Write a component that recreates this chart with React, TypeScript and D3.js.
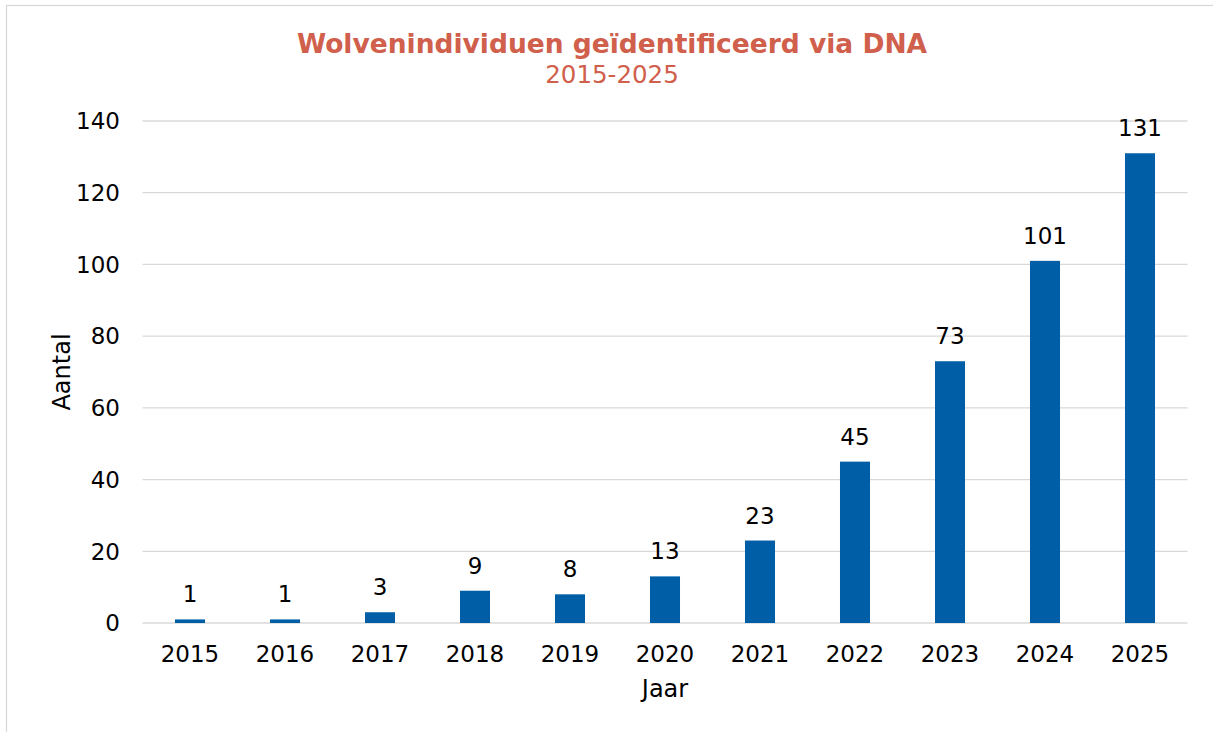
import React from "react";
import * as d3 from "d3";

const years = ["2015","2016","2017","2018","2019","2020","2021","2022","2023","2024","2025"];
const counts = [1, 1, 3, 9, 8, 13, 23, 45, 73, 101, 131];
const yTicks = [0, 20, 40, 60, 80, 100, 120, 140];

const W = 1213, H = 732;
const M = { left: 142.5, right: 1187.5, top: 121, bottom: 623 };
const FONT = "'DejaVu Sans', Verdana, sans-serif";

export default function App() {
  const x = d3.scaleBand<string>().domain(years).range([M.left, M.right]).paddingInner(0.684).paddingOuter(0.342);
  const y = d3.scaleLinear().domain([0, 140]).range([M.bottom, M.top]);
  return (
    <svg width={W} height={H} style={{ position: "absolute", left: 0, top: 0, background: "#fff" }} fontFamily={FONT}>
      <rect x={6.5} y={5.5} width={W + 10} height={H + 10} fill="#fff" stroke="#d9d9d9" strokeWidth={1.3} />
      <text x={612} y={53} textAnchor="middle" fontSize={26.5} fontWeight="bold" fill="#D0604C">Wolvenindividuen geïdentificeerd via DNA</text>
      <text x={612} y={83} textAnchor="middle" fontSize={24.5} fill="#D0604C">2015-2025</text>
      {yTicks.map(t => (
        <g key={t}>
          <line x1={M.left} x2={M.right} y1={y(t)} y2={y(t)} stroke="#d9d9d9" strokeWidth={1.3} />
          <text x={120} y={y(t)} dy="0.36em" textAnchor="end" fontSize={23} fill="#000">{t}</text>
        </g>
      ))}
      {years.map((yr, i) => (
        <g key={yr}>
          <rect x={x(yr)} y={y(counts[i])} width={x.bandwidth()} height={y(0) - y(counts[i])} fill="#005EA6" />
          <text x={x(yr)! + x.bandwidth() / 2} y={y(counts[i]) - 17} textAnchor="middle" fontSize={23} fill="#000">{counts[i]}</text>
          <text x={x(yr)! + x.bandwidth() / 2} y={662} textAnchor="middle" fontSize={23} fill="#000">{yr}</text>
        </g>
      ))}
      <text transform={`translate(70,${(M.top + M.bottom) / 2}) rotate(-90)`} textAnchor="middle" fontSize={24} fill="#000">Aantal</text>
      <text x={665} y={697} textAnchor="middle" fontSize={24} fill="#000">Jaar</text>
    </svg>
  );
}
